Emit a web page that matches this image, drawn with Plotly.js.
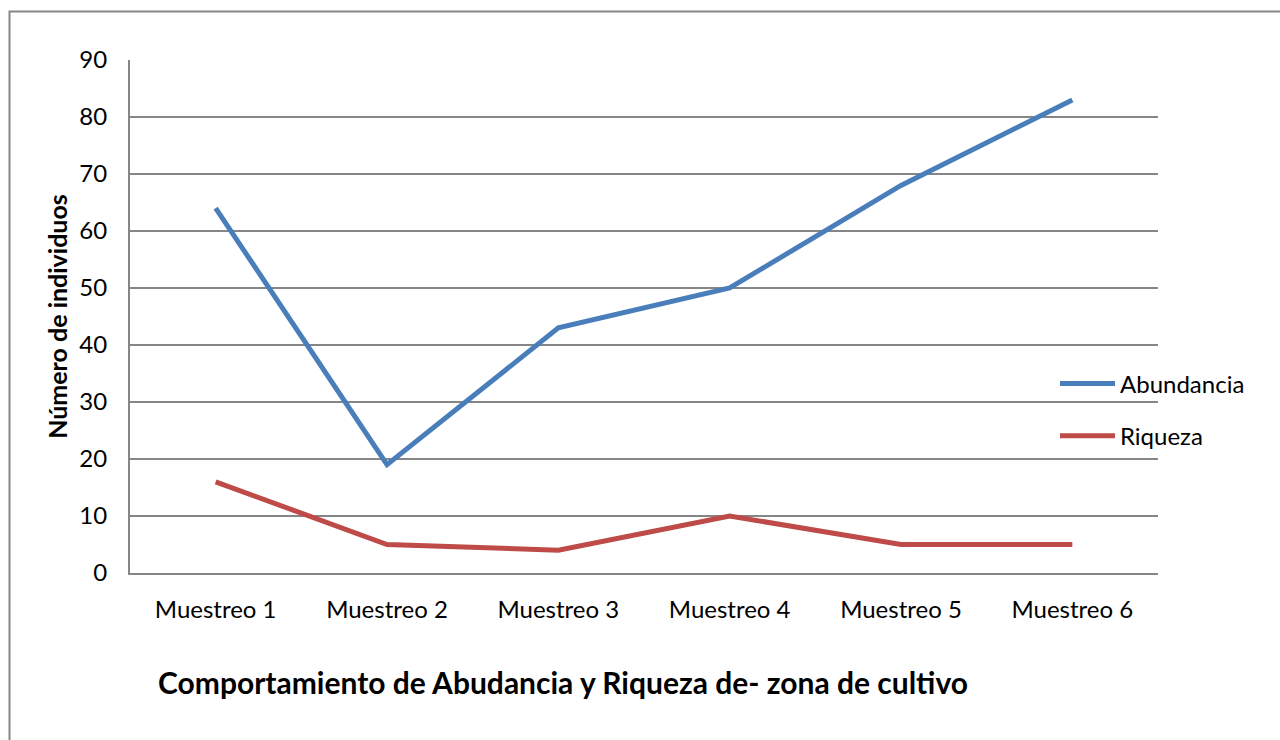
<!DOCTYPE html>
<html>
<head>
<meta charset="utf-8">
<script src="https://cdn.plot.ly/plotly-3.0.1.min.js"></script>
<style>html,body{margin:0;padding:0;background:#fff;}#chart{width:1280px;height:740px;}</style>
</head>
<body>
<div id="chart"></div>
<script>
const categories = ["Muestreo 1", "Muestreo 2", "Muestreo 3", "Muestreo 4", "Muestreo 5", "Muestreo 6"];
const abundancia = [64, 19, 43, 50, 68, 83];
const riqueza = [16, 5, 4, 10, 5, 5];
const yTicks = [0, 10, 20, 30, 40, 50, 60, 70, 80, 90];

const font = "Lato, 'Open Sans', sans-serif";
const data = [
  {x: categories, y: abundancia, type: 'scatter', mode: 'lines', name: 'Abundancia', legendgroup: 'a',
   line: {color: '#4a7ebb', width: 5}},
  {x: categories, y: riqueza, type: 'scatter', mode: 'lines', name: 'Riqueza', legendgroup: 'b',
   line: {color: '#be4b48', width: 5}}
];
const layout = {
  width: 1280, height: 740,
  margin: {l: 130, r: 122, t: 60, b: 167},
  paper_bgcolor: '#fff', plot_bgcolor: '#fff',
  font: {family: font, color: '#000', size: 24},
  showlegend: true,
  legend: {x: 0.8998, y: 0.318, xanchor: 'left', yanchor: 'middle', font: {size: 24, family: font},
           bgcolor: 'rgba(0,0,0,0)', tracegroupgap: 18, traceorder: 'grouped', itemwidth: 55},
  xaxis: {type: 'category', range: [-0.5, 5.5], showgrid: false, showline: true,
          linecolor: '#868686', linewidth: 2, ticks: 'outside', ticklen: 14, tickcolor: 'rgba(0,0,0,0)',
          tickfont: {size: 24, family: font}, zeroline: false, fixedrange: true},
  yaxis: {range: [0, 90], tickvals: yTicks, showgrid: true, gridcolor: '#868686', gridwidth: 1.5,
          showline: true, linecolor: '#868686', linewidth: 2, zeroline: false,
          ticks: 'outside', ticklen: 16, tickcolor: 'rgba(0,0,0,0)',
          tickfont: {size: 24, family: font},
          title: {text: '<b>Número de individuos</b>', font: {size: 25, family: font}, standoff: 5}},
  annotations: [{
    text: '<b>Comportamiento de Abudancia y Riqueza de- zona de cultivo</b>',
    xref: 'paper', yref: 'paper', x: (563 - 130) / 1028, y: (573 - 682) / 513,
    xanchor: 'center', yanchor: 'middle', showarrow: false,
    font: {size: 30, family: font, color: '#000'}
  }],
  shapes: [{
    type: 'rect', xref: 'paper', yref: 'paper',
    x0: (9.5 - 130) / 1028, x1: (1290 - 130) / 1028,
    y0: (573 - 760) / 513, y1: (573 - 11.5) / 513,
    line: {color: '#868686', width: 2}, fillcolor: 'rgba(0,0,0,0)', layer: 'below'
  }]
};
Plotly.newPlot('chart', data, layout, {displayModeBar: false, staticPlot: true});
</script>
</body>
</html>
